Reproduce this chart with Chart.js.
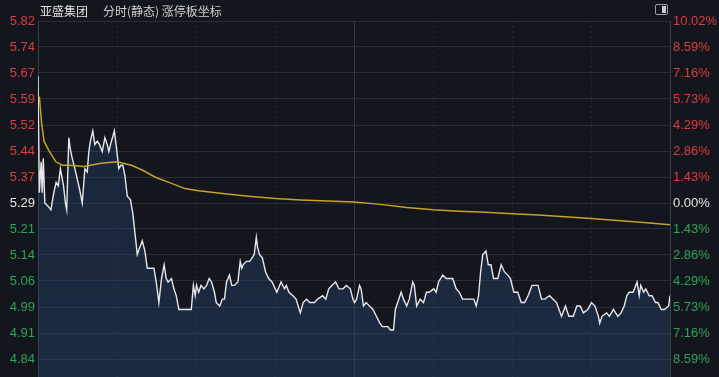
<!DOCTYPE html>
<html>
<head>
<meta charset="utf-8">
<script src="https://cdn.jsdelivr.net/npm/chart.js@4.4.1/dist/chart.umd.min.js"></script>
<style>
  html, body { margin: 0; padding: 0; background: #14161d; overflow: hidden; }
  #wrap { position: relative; width: 719px; height: 377px; overflow: hidden; }
  #c { position: absolute; left: 0; top: 0; }
  .title { position: absolute; top: 2px; font: 12px "Noto Sans CJK SC", sans-serif; color: #e2e2e2; white-space: nowrap; }
  #icon { position: absolute; left: 655px; top: 4px; width: 11px; height: 9px; border: 1px solid #9a9ca3; border-radius: 2px; }
  #icon i { position: absolute; right: 1px; top: 1px; width: 4px; height: 7px; background: #c9cbd0; }
</style>
</head>
<body>
<div id="wrap">
  <canvas id="c" width="719" height="385"></canvas>
  <div class="title" style="left:40px">亚盛集团</div>
  <div class="title" style="left:103px;color:#cfcfd2">分时(静态) 涨停板坐标</div>
  <div id="icon"><i></i></div>
</div>
<script>
  var preClose = 5.29;
  var limitPct = 10.02;

  // percent ticks (right axis) and matching price labels (left axis)
  var pctTicks = [10.02, 8.59, 7.16, 5.73, 4.29, 2.86, 1.43, 0, -1.43, -2.86, -4.29, -5.73, -7.16, -8.59];
  var priceLabels = ['5.82', '5.74', '5.67', '5.59', '5.52', '5.44', '5.37', '5.29', '5.21', '5.14', '5.06', '4.99', '4.91', '4.84'];

  // minutes after open (0..240) and last price
  var priceTimes = [0, 0.5, 1.2, 1.6, 2.0, 2.6, 3.9, 4.9, 6.0, 6.9, 7.7, 8.5, 9.2, 9.7, 10.4, 10.9, 11.7, 12.2, 13.0, 14.0,
    14.9, 15.8, 16.8, 17.8, 18.7, 19.3, 19.9, 20.8, 21.6, 22.5, 23.4, 24.4, 25.4, 26.3, 26.9, 27.9, 29.0, 29.8, 30.7, 31.5,
    32.2, 33.0, 33.9, 35.1, 36.0, 37.0, 37.7, 38.6, 39.6, 40.6, 41.5, 42.7, 44.0, 44.9, 45.9, 46.9, 47.9, 48.7, 49.4, 50.7,
    51.6, 52.5, 53.5, 54.8, 56.0, 58.2, 59.0, 59.7, 60.2, 61.0, 61.9, 63.0, 64.0, 65.0, 65.9, 67.0, 67.7, 69.0, 70.0, 70.8,
    71.6, 72.7, 73.6, 74.6, 75.9, 76.8, 77.4, 77.9, 79.1, 80.4, 81.3, 82.1, 82.9, 83.4, 84.1, 85.2, 86.4, 87.6, 88.9, 90.7,
    92.3, 93.6, 94.3, 95.3, 96.8, 98.0, 99.6, 100.7, 102.0, 103.2, 105.0, 106.2, 108.1, 109.3, 110.4, 111.6, 113.0, 114.3, 115.8, 117.1,
    118.6, 119.6, 120.2, 121.0, 122.1, 122.7, 123.6, 124.6, 125.9, 127.2, 128.5, 129.8, 130.8, 131.6, 132.9, 133.8, 135.0, 135.7, 136.6, 137.9,
    138.8, 140.0, 141.0, 142.3, 142.9, 143.8, 145.1, 146.4, 147.5, 148.5, 150.3, 151.2, 152.1, 153.7, 155.0, 157.5, 158.8, 160.0, 161.2, 163.2,
    165.5, 166.4, 167.3, 168.1, 168.9, 170.1, 171.0, 172.0, 173.0, 174.6, 175.9, 177.1, 178.4, 179.4, 180.7, 182.2, 183.5, 184.8, 186.1, 187.6,
    188.6, 189.9, 191.2, 192.4, 194.3, 195.6, 196.9, 198.8, 200.3, 201.6, 203.3, 204.6, 205.9, 207.1, 208.8, 210.2, 211.5, 212.8, 213.3, 214.2,
    215.9, 217.0, 218.5, 220.2, 221.4, 222.6, 223.6, 224.5, 226.0, 227.5, 228.3, 228.9, 230.0, 230.8, 232.1, 233.2, 234.5, 235.4, 236.7, 237.9,
    239.5, 240];
  var prices = [5.66, 5.32, 5.41, 5.32, 5.42, 5.29, 5.28, 5.27, 5.32, 5.35, 5.34, 5.39, 5.36, 5.34, 5.29, 5.27, 5.48, 5.45, 5.42, 5.39,
    5.36, 5.33, 5.29, 5.39, 5.38, 5.44, 5.47, 5.50, 5.46, 5.47, 5.46, 5.44, 5.48, 5.46, 5.44, 5.47, 5.50, 5.45, 5.39, 5.40,
    5.40, 5.37, 5.31, 5.30, 5.26, 5.19, 5.14, 5.16, 5.18, 5.15, 5.10, 5.10, 5.10, 5.06, 5.00, 5.07, 5.11, 5.07, 5.06, 5.07,
    5.04, 5.02, 4.98, 4.98, 4.98, 4.98, 5.05, 5.02, 5.05, 5.03, 5.05, 5.04, 5.05, 5.07, 5.06, 5.03, 5.00, 4.99, 5.01, 5.01,
    5.06, 5.08, 5.05, 5.05, 5.06, 5.12, 5.10, 5.11, 5.12, 5.12, 5.13, 5.14, 5.19, 5.16, 5.14, 5.13, 5.09, 5.07, 5.06, 5.03,
    5.06, 5.04, 5.05, 5.03, 5.02, 5.01, 4.97, 5.00, 5.01, 5.00, 5.00, 5.01, 5.02, 5.01, 5.04, 5.05, 5.06, 5.04, 5.04, 5.05,
    5.04, 5.01, 5.00, 5.01, 5.05, 5.04, 4.99, 5.00, 4.99, 4.98, 4.96, 4.94, 4.93, 4.93, 4.93, 4.92, 4.92, 4.98, 5.00, 5.03,
    5.01, 4.99, 5.01, 5.06, 5.05, 4.99, 5.01, 5.00, 5.03, 5.03, 5.04, 5.03, 5.06, 5.08, 5.07, 5.07, 5.04, 5.03, 5.01, 5.01,
    5.01, 4.99, 5.02, 5.09, 5.14, 5.15, 5.11, 5.11, 5.07, 5.07, 5.11, 5.09, 5.08, 5.07, 5.03, 5.03, 5.00, 5.00, 5.02, 5.05,
    5.05, 5.05, 5.01, 5.01, 5.02, 5.01, 5.00, 4.96, 4.99, 4.96, 4.96, 4.99, 4.99, 4.97, 4.98, 5.00, 4.99, 4.96, 4.94, 4.96,
    4.97, 4.96, 4.98, 4.96, 4.97, 4.99, 5.02, 5.03, 5.03, 5.06, 5.02, 5.05, 5.03, 5.04, 5.02, 5.02, 5.00, 5.00, 4.98, 4.98,
    4.99, 5.02];

  // average price line
  var avgTimes = [0.5, 1.4, 2.3, 4.3, 6.8, 9.3, 11.8, 17.5, 24, 30, 35.5, 39.6, 44.6, 49.7, 55.8, 61, 70, 80, 90, 100,
    110, 120, 130, 140, 150, 160, 170, 180, 190, 200, 210, 220, 230, 240];
  var avgPrices = [5.60, 5.52, 5.47, 5.44, 5.41, 5.40, 5.40, 5.396, 5.406, 5.41, 5.40, 5.386, 5.365, 5.35, 5.332, 5.326, 5.318, 5.310, 5.303, 5.299,
    5.296, 5.293, 5.286, 5.277, 5.270, 5.266, 5.263, 5.259, 5.255, 5.250, 5.245, 5.239, 5.233, 5.227];

  var red = '#dd3a40', green = '#2ea455', white = '#e4e4e6';

  function toPoints(xs, ys) {
    return xs.map(function (x, i) { return { x: x, y: ys[i] }; });
  }

  function colorFor(p) {
    if (p > 0) return red;
    if (p < 0) return green;
    return white;
  }

  // the bottom of the plot sits under the window edge, so no label padding there
  function fitAxis(width) {
    return function (axis) {
      axis.width = width;
      axis.paddingTop = 0;
      axis.paddingBottom = 0;
    };
  }

  var ctx = document.getElementById('c');

  new Chart(ctx, {
    type: 'line',
    data: {
      datasets: [{
        data: toPoints(avgTimes, avgPrices),
        borderColor: '#c9a225',
        borderWidth: 1.5,
        pointRadius: 0,
        fill: false,
        order: 0
      }, {
        data: toPoints(priceTimes, prices),
        borderColor: '#e6e7ea',
        borderWidth: 1.4,
        pointRadius: 0,
        fill: 'start',
        backgroundColor: function (c) {
          var a = c.chart.chartArea;
          if (!a) return 'rgba(36,66,110,0.35)';
          var g = c.chart.ctx.createLinearGradient(0, a.top, 0, a.bottom);
          g.addColorStop(0, 'rgba(36,66,110,0.32)');
          g.addColorStop(1, 'rgba(40,72,118,0.42)');
          return g;
        },
        order: 1
      }]
    },
    options: {
      responsive: false,
      animation: false,
      layout: { padding: { top: 21, bottom: 0, left: 0, right: 0 } },
      plugins: { legend: { display: false }, tooltip: { enabled: false } },
      scales: {
        x: {
          type: 'linear',
          min: 0,
          max: 240,
          afterBuildTicks: function (axis) {
            axis.ticks = [30, 60, 90, 120, 150, 180, 210].map(function (v) { return { value: v }; });
          },
          afterFit: function (axis) { axis.height = 0; },
          ticks: { display: false },
          grid: {
            drawTicks: false,
            color: function (c) { return c.tick && c.tick.value === 120 ? '#343843' : '#262932'; }
          },
          border: {
            display: false,
            dash: function (c) { return c.tick && c.tick.value === 120 ? [] : [2, 3]; }
          }
        },
        y: {
          position: 'left',
          min: preClose * (1 - limitPct / 100),
          max: preClose * (1 + limitPct / 100),
          afterFit: fitAxis(38),
          afterBuildTicks: function (axis) {
            axis.ticks = pctTicks.map(function (p) { return { value: preClose * (1 + p / 100) }; });
          },
          ticks: {
            padding: 3,
            font: { family: 'Liberation Sans, Arial, sans-serif', size: 13 },
            color: function (c) { return colorFor(pctTicks[c.index]); },
            callback: function (v, i) { return priceLabels[i]; }
          },
          grid: { drawTicks: false, color: '#2a2d36' },
          border: { color: '#3a3e48' }
        },
        y2: {
          position: 'right',
          min: -limitPct,
          max: limitPct,
          afterFit: fitAxis(49),
          afterBuildTicks: function (axis) {
            axis.ticks = pctTicks.map(function (p) { return { value: p }; });
          },
          ticks: {
            padding: 3,
            font: { family: 'Liberation Sans, Arial, sans-serif', size: 13 },
            color: function (c) { return colorFor(pctTicks[c.index]); },
            callback: function (v, i) { return Math.abs(pctTicks[i]).toFixed(2) + '%'; }
          },
          grid: { display: false, drawTicks: false },
          border: { color: '#3a3e48' }
        }
      }
    }
  });
</script>
</body>
</html>
